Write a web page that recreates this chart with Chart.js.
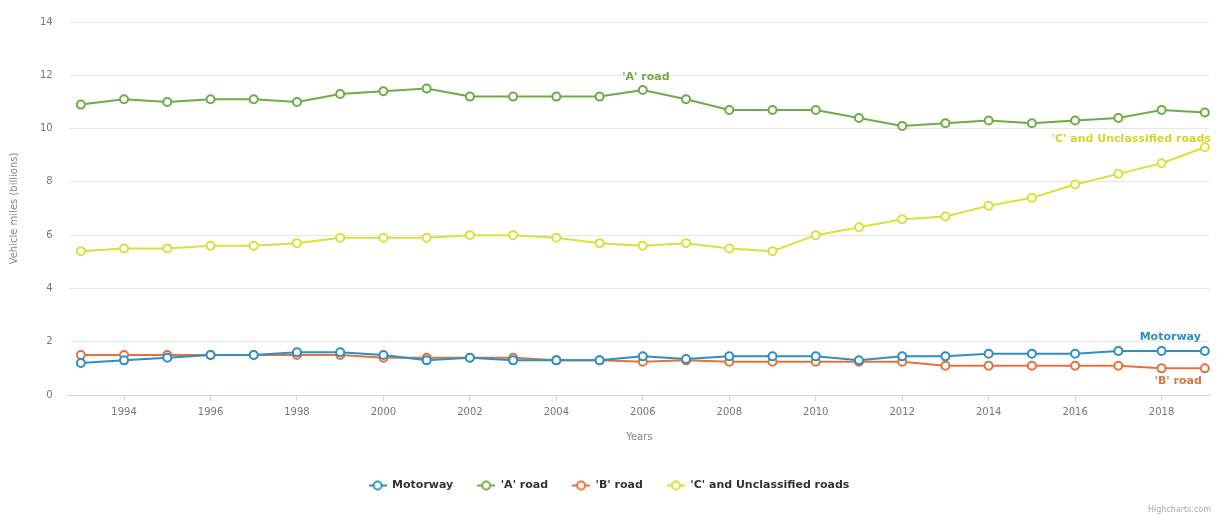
<!DOCTYPE html>
<html>
<head>
<meta charset="utf-8">
<script src="https://cdn.jsdelivr.net/npm/chart.js@4"></script>
<style>
  html, body { margin: 0; padding: 0; background: #fff; }
  #wrap { width: 1217px; height: 515px; position: relative; }
</style>
</head>
<body>
<div id="wrap"><canvas id="roads-chart"></canvas></div>
<script>
// Vehicle miles by road type, 1993 - 2019 (billions)
const years = [1993, 1994, 1995, 1996, 1997, 1998, 1999, 2000, 2001, 2002, 2003, 2004, 2005, 2006,
  2007, 2008, 2009, 2010, 2011, 2012, 2013, 2014, 2015, 2016, 2017, 2018, 2019];
const motorway = [1.2, 1.3, 1.4, 1.5, 1.5, 1.6, 1.6, 1.5, 1.3, 1.4, 1.3, 1.3, 1.3, 1.45,
  1.35, 1.45, 1.45, 1.45, 1.3, 1.45, 1.45, 1.55, 1.55, 1.55, 1.65, 1.65, 1.65];
const aRoad = [10.9, 11.1, 11.0, 11.1, 11.1, 11.0, 11.3, 11.4, 11.5, 11.2, 11.2, 11.2, 11.2, 11.45,
  11.1, 10.7, 10.7, 10.7, 10.4, 10.1, 10.2, 10.3, 10.2, 10.3, 10.4, 10.7, 10.6];
const bRoad = [1.5, 1.5, 1.5, 1.5, 1.5, 1.5, 1.5, 1.4, 1.4, 1.4, 1.4, 1.3, 1.3, 1.25,
  1.3, 1.25, 1.25, 1.25, 1.25, 1.25, 1.1, 1.1, 1.1, 1.1, 1.1, 1.0, 1.0];
const cRoads = [5.4, 5.5, 5.5, 5.6, 5.6, 5.7, 5.9, 5.9, 5.9, 6.0, 6.0, 5.9, 5.7, 5.6,
  5.7, 5.5, 5.4, 6.0, 6.3, 6.6, 6.7, 7.1, 7.4, 7.9, 8.3, 8.7, 9.3];
const xTicks = [1994, 1996, 1998, 2000, 2002, 2004, 2006, 2008, 2010, 2012, 2014, 2016, 2018];
const yTicks = [0, 2, 4, 6, 8, 10, 12, 14];

const FONT = '"DejaVu Sans", sans-serif';
const colors = {
  motorway: '#2f8fc2',
  a: '#6eac45',
  b: '#e2733f',
  c: '#dbe03a'
};

function pts(vals) {
  return vals.map((v, i) => ({ x: years[i], y: v }));
}

function makeSeries(label, vals, color) {
  return {
    label: label,
    data: pts(vals),
    borderColor: color,
    backgroundColor: '#ffffff',
    borderWidth: 2,
    pointRadius: 4,
    pointBorderWidth: 2,
    pointBackgroundColor: '#ffffff',
    pointBorderColor: color,
    tension: 0
  };
}

// legend symbol: short line with hollow circle
function legendSymbol(color) {
  const c = document.createElement('canvas');
  c.width = 18; c.height = 12;
  const g = c.getContext('2d');
  g.strokeStyle = color;
  g.lineWidth = 2;
  g.beginPath(); g.moveTo(0, 6); g.lineTo(18, 6); g.stroke();
  g.fillStyle = '#fff';
  g.beginPath(); g.arc(9, 6, 4, 0, Math.PI * 2); g.fill(); g.stroke();
  return c;
}

// series labels placed next to the lines
const seriesLabels = {
  id: 'seriesLabels',
  afterDatasetsDraw(chart) {
    const ctx = chart.ctx;
    const put = (dsIndex, pointIndex, text, color, dx, dy, align) => {
      const p = chart.getDatasetMeta(dsIndex).data[pointIndex];
      ctx.save();
      ctx.font = 'bold 11px ' + FONT;
      ctx.fillStyle = color;
      ctx.textAlign = align;
      ctx.textBaseline = 'middle';
      ctx.fillText(text, p.x + dx, p.y + dy);
      ctx.restore();
    };
    put(1, 13, "'A' road", colors.a, 3, -13, 'center');
    put(3, 26, "'C' and Unclassified roads", '#d3d62c', 6, -8, 'right');
    put(0, 26, 'Motorway', colors.motorway, -4, -14, 'right');
    put(2, 26, "'B' road", colors.b, -3, 13, 'right');
    // credit
    ctx.save();
    ctx.font = '8px ' + FONT;
    ctx.fillStyle = '#aaaaaa';
    ctx.textAlign = 'right';
    ctx.fillText('Highcharts.com', chart.width - 6, chart.height - 5);
    ctx.restore();
  }
};

const ctx = document.getElementById('roads-chart').getContext('2d');
const chart = new Chart(ctx, {
  type: 'line',
  data: {
    datasets: [
      makeSeries('Motorway', motorway, colors.motorway),
      makeSeries("'A' road", aRoad, colors.a),
      makeSeries("'B' road", bRoad, colors.b),
      makeSeries("'C' and Unclassified roads", cRoads, colors.c)
    ]
  },
  options: {
    responsive: true,
    maintainAspectRatio: false,
    animation: false,
    layout: { padding: { left: 8, right: 7, top: 1, bottom: 14 } },
    plugins: {
      tooltip: { enabled: false },
      legend: {
        position: 'bottom',
        labels: {
          usePointStyle: true,
          pointStyleWidth: 18,
          padding: 24,
          color: '#333333',
          font: { family: FONT, size: 11, weight: 'bold' },
          generateLabels(chart) {
            return chart.data.datasets.map((ds, i) => ({
              text: ds.label,
              pointStyle: legendSymbol(ds.borderColor),
              fillStyle: '#fff',
              strokeStyle: ds.borderColor,
              lineWidth: 0,
              hidden: false,
              datasetIndex: i,
              fontColor: '#333333'
            }));
          }
        }
      }
    },
    scales: {
      x: {
        type: 'linear',
        min: 1992.72,
        max: 2019.12,
        afterBuildTicks(axis) {
          axis.ticks = xTicks.map(v => ({ value: v }));
        },
        grid: {
          drawOnChartArea: false,
          drawTicks: true,
          tickLength: 6,
          color: '#ccd6eb'
        },
        border: { display: true, color: '#ccd6eb' },
        ticks: {
          color: '#777777',
          font: { family: FONT, size: 10 },
          padding: 5,
          maxRotation: 0,
          callback: v => String(v)
        },
        title: {
          display: true,
          text: 'Years',
          color: '#888888',
          font: { family: FONT, size: 10 },
          padding: { top: 8, bottom: 13 }
        }
      },
      y: {
        min: 0,
        max: 14,
        afterBuildTicks(axis) {
          axis.ticks = yTicks.map(v => ({ value: v }));
        },
        grid: { color: '#e8e8e8', drawTicks: false },
        border: { display: false },
        ticks: {
          color: '#777777',
          font: { family: FONT, size: 10 },
          padding: 16
        },
        title: {
          display: true,
          text: 'Vehicle miles (billions)',
          color: '#888888',
          font: { family: FONT, size: 10 },
          padding: { top: 0, bottom: 4 }
        }
      }
    }
  },
  plugins: [seriesLabels]
});
</script>
</body>
</html>
